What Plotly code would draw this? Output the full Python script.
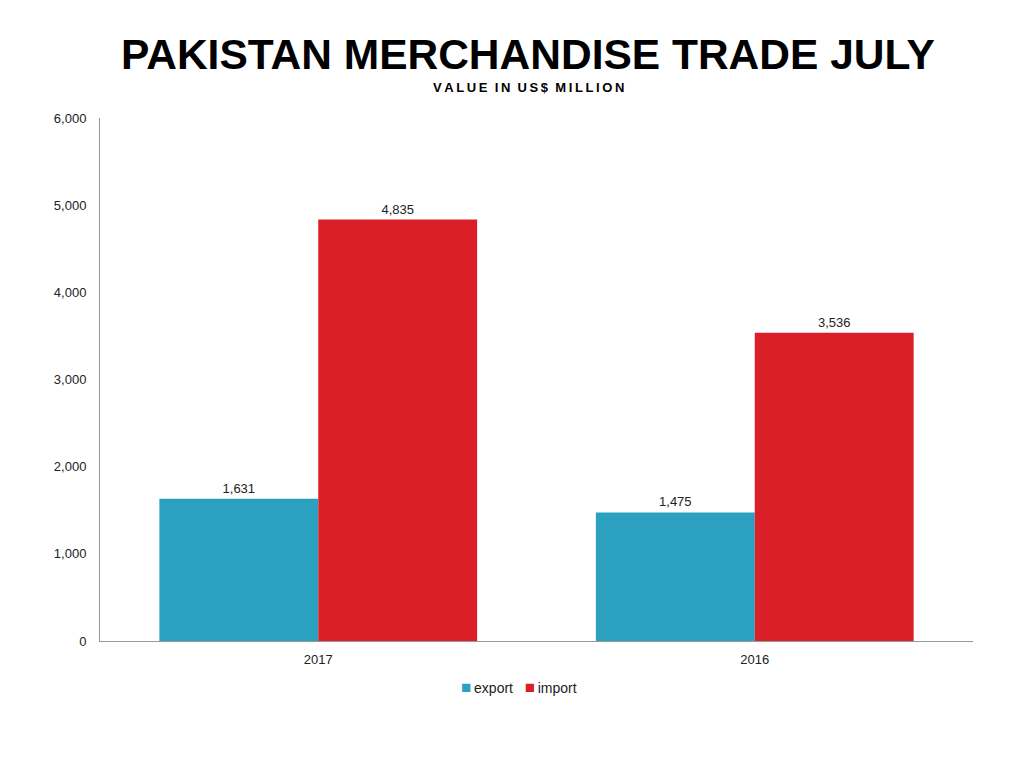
import plotly.graph_objects as go

years = ['2017', '2016']
export_vals = [1631, 1475]
import_vals = [4835, 3536]
y_ticks = [0, 1000, 2000, 3000, 4000, 5000, 6000]

export_color = '#2ca1bf'
import_color = '#da1f28'
title_font = "Liberation Sans, Arial"

export_trace = go.Bar(x=years, y=export_vals, name='export',
                      marker={'color': export_color, 'line': {'width': 0}},
                      text=[f"{v:,}" for v in export_vals],
                      textposition='outside', cliponaxis=False,
                      textfont={'size': 13, 'color': '#222'})
import_trace = go.Bar(x=years, y=import_vals, name='import',
                      marker={'color': import_color, 'line': {'width': 0}},
                      text=[f"{v:,}" for v in import_vals],
                      textposition='outside', cliponaxis=False,
                      textfont={'size': 13, 'color': '#222'})

# plot area in page pixels (the page adds an 8px body margin)
top, bottom, left, right = 110, 135, 92, 59
plot_h = 768 - top - bottom
plot_w = 1024 - left - right

layout = go.Layout(
    width=1024, height=768,
    paper_bgcolor='white', plot_bgcolor='white',
    font={'family': 'Liberation Sans, Arial', 'size': 13, 'color': '#222'},
    margin={'l': left, 'r': right, 't': top, 'b': bottom},
    barmode='group', bargap=0.272, bargroupgap=0,
    showlegend=False,
    xaxis={'showline': True, 'linecolor': '#999', 'linewidth': 1,
           'ticks': '', 'showgrid': False, 'tickfont': {'size': 13},
           'ticklabelstandoff': 6},
    yaxis={'range': [0, 6000], 'tickvals': y_ticks,
           'tickformat': ',d', 'showline': True, 'linecolor': '#999',
           'linewidth': 1, 'showgrid': False, 'zeroline': False,
           'ticks': '', 'ticklen': 0, 'tickfont': {'size': 13},
           'ticklabelstandoff': 10},
)

fig = go.Figure(data=[export_trace, import_trace], layout=layout)

def px_x(px):
    return (px - 8 - left) / plot_w

def px_y(py):
    return 1 + (top - py) / plot_h

# title and subtitle placed by pixel row
ts = '\u2009'
subtitle = '\u00a0\u00a0'.join(ts.join(w) for w in 'VALUE IN US$ MILLION'.split())
for text, py, size in [('<b>PAKISTAN MERCHANDISE TRADE JULY</b>', 47, 42.5),
                       (f'<b>{subtitle}</b>', 79, 13)]:
    fig.add_annotation(text=text, x=px_x(528), xref='paper', yref='paper',
                       y=px_y(py), yanchor='middle', showarrow=False,
                       font={'family': title_font, 'size': size, 'color': 'black'})

# compact legend like the original
sq = '<span style="color:{};font-size:17px">■</span>'
legend_text = (sq.format(export_color) + '\u2009export\u00a0\u00a0\u00a0'
               + sq.format(import_color) + '\u2009import')
fig.add_annotation(text=legend_text, x=px_x(519), y=px_y(679), xref='paper',
                   yref='paper', yanchor='middle', showarrow=False,
                   font={'size': 14, 'color': '#222'})

fig.write_html("out.html")
